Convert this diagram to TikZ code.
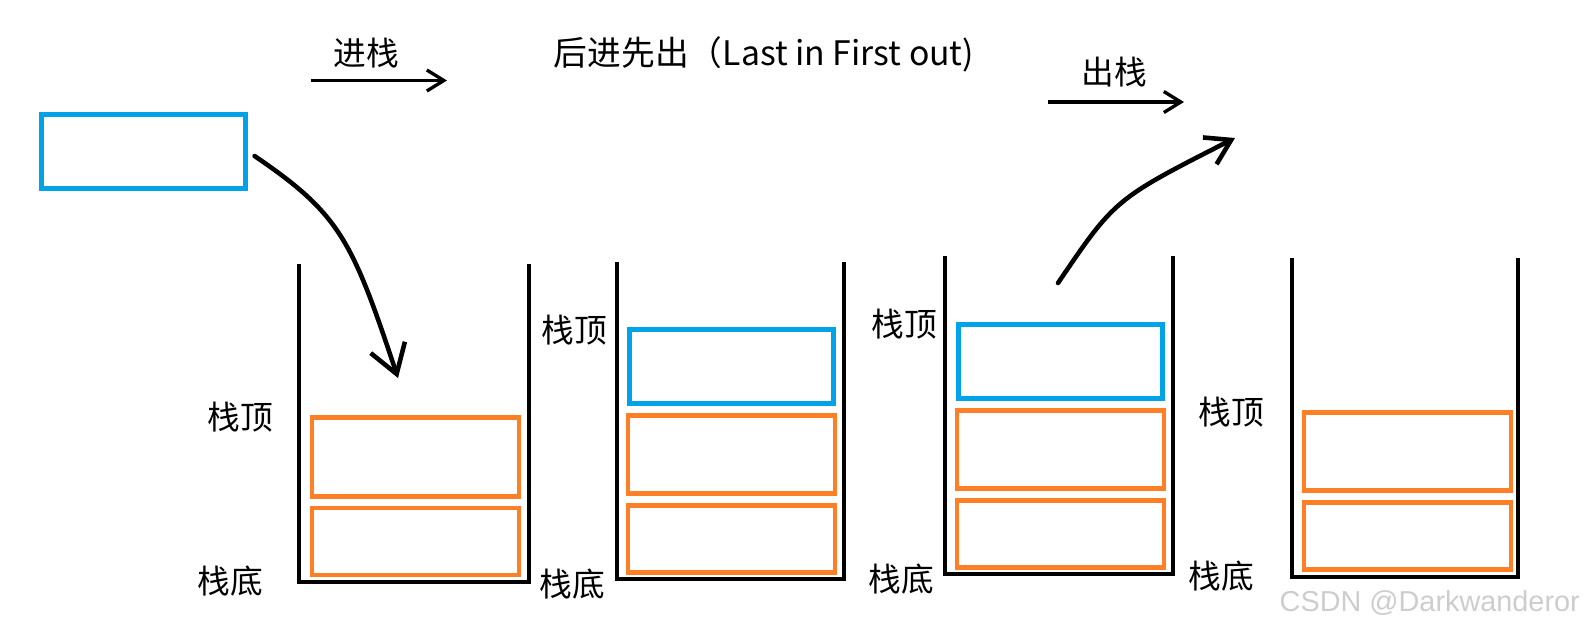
\documentclass[tikz,border=0pt]{standalone}
\usepackage{fontspec}
\setmainfont{Noto Sans CJK SC}
\newfontfamily\markfont{Liberation Sans}
\usepackage{tikz}
\usetikzlibrary{positioning,arrows.meta}
\definecolor{paintblue}{RGB}{0,162,232}
\definecolor{paintorange}{RGB}{255,127,39}
\definecolor{markgray}{RGB}{205,205,205}

\begin{document}
\begin{tikzpicture}[
    x=0.01cm, y=-0.01cm,
    node distance=0.07cm,
    lbl/.style={font=\fontsize{9.3}{11}\selectfont, inner sep=0pt},
    slot/.style={rectangle, line width=1.35pt, inner sep=0pt, minimum width=2.07cm},
    olow/.style={slot, draw=paintorange, minimum height=0.67cm},
    ohigh/.style={slot, draw=paintorange, minimum height=0.785cm},
    bslot/.style={slot, draw=paintblue, minimum width=2.04cm, minimum height=0.74cm},
    wall/.style={line width=1.3pt, line join=miter},
    flatarr/.style={-{Straight Barb[length=0.17cm, width=0.21cm]}, line width=0.95pt},
    curvearr/.style={-{Straight Barb[length=0.28cm, width=0.36cm]}, line width=1.3pt, line cap=round}
  ]
    \useasboundingbox (0,0) rectangle (1585,630);

    \node[lbl] (pushlbl) at (366,53)  {进栈};
    \node[lbl, font=\fontsize{9.6}{11}\selectfont] (motto) at (764,54) {后进先出（Last in First out)};
    \node[lbl] (poplbl)  at (1114,72) {出栈};
    \coordinate (pushA) at (311,80.5);
    \coordinate (pushB) at (447,80.5);
    \coordinate (popA)  at (1048,102);
    \coordinate (popB)  at (1184,102);
    \draw[flatarr] (pushA) -- (pushB);
    \draw[flatarr] (popA) -- (popB);

    \node[bslot] (newitem) at (143.5,151.5) {};

    \draw[wall] (299,264) -- (299,582) -- (529,582) -- (529,264);
    \draw[wall] (617,262) -- (617,579) -- (844,579) -- (844,262);
    \draw[wall] (945,256) -- (945,574) -- (1173,574) -- (1173,256);
    \draw[wall] (1292,258) -- (1292,577) -- (1518,577) -- (1518,258);

    \node[olow]  (s1b) at (415.5,541.5) {};
    \node[ohigh] (s1a) [above=of s1b] {};
    \node[olow]  (s2b) at (731.5,539) {};
    \node[ohigh] (s2a) [above=of s2b] {};
    \node[bslot] (s2c) [above=of s2a] {};
    \node[olow]  (s3b) at (1060.5,534) {};
    \node[ohigh] (s3a) [above=of s3b] {};
    \node[bslot] (s3c) [above=of s3a] {};
    \node[olow]  (s4b) at (1407.5,536) {};
    \node[ohigh] (s4a) [above=of s4b] {};

    \node[lbl] (s1top) at (240,417)  {栈顶};
    \node[lbl] (s1bot) at (230,581)  {栈底};
    \node[lbl] (s2top) at (574,330)  {栈顶};
    \node[lbl] (s2bot) at (572,584)  {栈底};
    \node[lbl] (s3top) at (904,324)  {栈顶};
    \node[lbl] (s3bot) at (901,579)  {栈底};
    \node[lbl] (s4top) at (1231,412) {栈顶};
    \node[lbl] (s4bot) at (1221,576) {栈底};

    \coordinate (pushend)  at (398,378);
    \coordinate (popstart) at (1058,283);
    \coordinate (popend)   at (1235,138);
    \draw[curvearr, shorten <=0.08cm] (newitem.east) .. controls (340,214) and (352,240) .. (pushend);
    \draw[curvearr, -{Straight Barb[length=0.24cm, width=0.3cm]}] (popstart) .. controls (1115,199) .. (popend);

    \node[font=\markfont\fontsize{8.2}{9}\selectfont, text=markgray, anchor=west, inner sep=0pt] (mark) at (1279,603) {CSDN @Darkwanderor};
\end{tikzpicture}
\end{document}
